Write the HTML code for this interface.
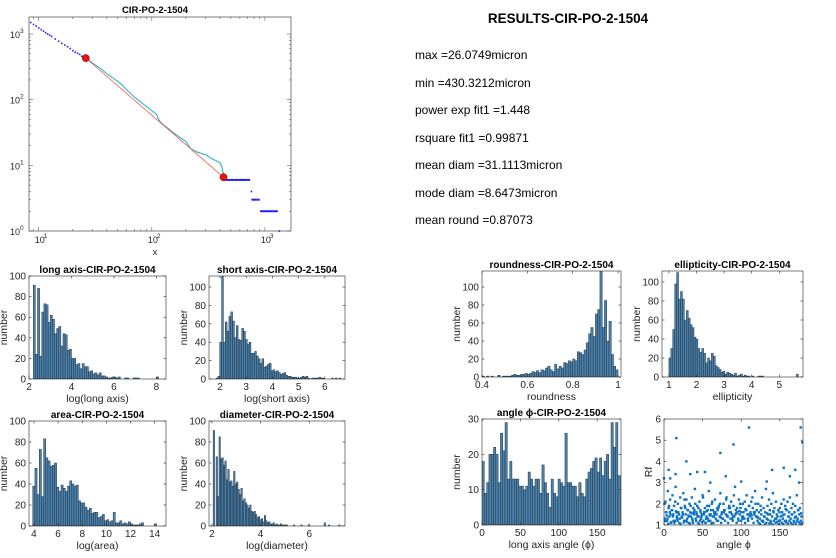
<!DOCTYPE html>
<html><head><meta charset="utf-8">
<style>
html,body{margin:0;padding:0;background:#fff;}
svg{display:block;font-family:"Liberation Sans",Arial,sans-serif;}
.t{font-size:12px;fill:#000;}
</style></head>
<body>
<svg id="fig" width="836" height="558" viewBox="0 0 836 558">
<g>
<text x="568" y="23" text-anchor="middle" font-weight="bold" font-size="13.5">RESULTS-CIR-PO-2-1504</text>
<text class="t" x="415" y="59">max =26.0749micron</text>
<text class="t" x="415" y="87">min =430.3212micron</text>
<text class="t" x="415" y="114">power exp fit1 =1.448</text>
<text class="t" x="415" y="142">rsquare fit1 =0.99871</text>
<text class="t" x="415" y="169">mean diam =31.1113micron</text>
<text class="t" x="415" y="197">mode diam =8.6473micron</text>
<text class="t" x="415" y="224">mean round =0.87073</text>
</g>
</svg>
<script>
// ---------- data ----------
const headX = [8.5,9,9.5,10,10.5,11,11.5,12,12.5,13,14,15,16,17,18,19,20,21,22,23,24,25,26];
const headY = [1500,1400,1320,1240,1170,1110,1050,1000,960,920,840,780,720,680,640,600,560,530,510,490,460,445,430];
const cyanX = [26,30,35,40,45,50,55,60,65,70,80,90,100,110,115,120,130,150,170,200,220,250,280,300,330,360,400,420,430];
const cyanY = [430,360,300,250,215,190,165,140,125,110,92,78,68,60,50,45,40,33,28,23,18,16,15,14.5,13,12,11,9,7];
const tailX = [430,460,500,540,580,620,660,700,740,760,770,800,840,880,900,920,980,1040,1100,1160,1220,1280,1300,1340];
const tailY = [6,6,6,6,6,6,6,6,6,4,3,3,3,3,3,2,2,2,2,2,2,2,2,1];
const fitX = [26.07,430.32];
const fitY = [430,6.6];
const longStart = 2.2, longWidth = 0.1;
const longCounts = [91,24,88,22,65,73,72,55,62,58,44,49,51,32,44,43,28,29,20,20,14,15,10,15,12,12,7,8,5,6,4,6,3,3,2,1,1,2,2,1,2,0,0,1,1,0,0,1,1,1,0,0,0,0,0,0,0,0,2];
const shortStart = 1.85, shortWidth = 0.07;
const shortCounts = [1,3,40,112,40,62,52,68,73,63,45,58,43,42,55,52,43,38,40,28,28,30,25,22,17,22,13,14,16,17,9,10,8,9,7,5,6,7,4,3,3,2,2,2,1,1,2,3,2,3,1,0,1,1,1,1,2,1,1,0,0,0,0,1,0,1,0,1];
const areaStart = 3.9, areaWidth = 0.18;
const areaCounts = [38,55,30,73,28,83,65,62,57,58,60,37,33,39,36,33,38,43,40,38,39,24,22,22,18,15,17,12,13,13,8,9,11,5,6,4,5,13,3,3,5,2,3,2,4,2,1,1,1,2,3,0,0,0,0,0,2];
const diamStart = 2.05, diamWidth = 0.06;
const diamCounts = [91,0,66,28,85,64,65,58,62,44,54,42,43,38,52,40,42,35,30,36,24,26,22,20,17,20,14,13,14,11,8,9,6,7,4,10,5,3,4,2,2,3,1,2,1,1,2,1,1,1,1,0,0,0,0,1,0,0,0,0,1,0,0,0,0,1,0,0,0,0,0,0,0,0,0,0,3,0,0,1,0,0,0,0,0,0,1];
const roundStart = 0.4, roundWidth = 0.01;
const roundCounts = [1,0,1,0,1,0,0,2,0,1,1,1,1,2,3,2,2,3,3,4,3,4,6,5,7,5,8,7,10,12,8,6,14,9,12,10,16,15,18,17,20,18,28,27,25,30,38,48,55,45,70,75,118,55,85,40,62,25,12,8];
const ellStart = 1.0, ellWidth = 0.07;
const ellCounts = [20,30,50,98,110,82,90,82,60,70,62,55,52,42,40,30,26,30,25,15,20,17,25,22,12,10,8,5,6,3,5,4,3,2,4,1,2,3,1,2,1,1,0,1,0,0,1,1,1,0,0,0,0,0,0,0,0,0,0,0,0,0,0,0,0,0,3];
const angleStart = 0, angleWidth = 3;
const angleCounts = [18,9,12,20,20,22,20,12,26,21,29,13,18,13,13,13,11,11,10,11,15,13,11,13,13,9,17,12,9,5,13,9,8,13,12,11,26,12,12,11,11,8,12,9,8,13,15,16,18,19,15,19,14,18,20,13,29,22,29,14];
const scAngle = [16,110,90,73,29,177,179,6,15,34,43,53,0,8,140,155,170,163,80,100,133,175,60,
1,2,3,4,5,6,7,8,9,10,11,12,13,14,15,16,17,18,19,20,21,22,23,24,25,26,27,28,29,30,31,32,33,34,35,36,37,38,39,40,41,42,43,44,45,46,47,48,49,50,51,52,53,54,55,56,57,58,59,60,61,62,63,64,65,66,67,68,69,70,71,72,73,74,75,76,77,78,79,80,81,82,83,84,85,86,87,88,89,90,91,92,93,94,95,96,97,98,99,100,101,102,103,104,105,106,107,108,109,110,111,112,113,114,115,116,117,118,119,120,121,122,123,124,125,126,127,128,129,130,131,132,133,134,135,136,137,138,139,140,141,142,143,144,145,146,147,148,149,150,151,152,153,154,155,156,157,158,159,160,161,162,163,164,165,166,167,168,169,170,171,172,173,174,175,176,177,178,
0.5,2.5,4.5,6.5,8.5,10.5,12.5,14.5,16.5,18.5,20.5,22.5,24.5,26.5,28.5,30.5,32.5,34.5,36.5,38.5,40.5,42.5,44.5,46.5,48.5,50.5,52.5,54.5,56.5,58.5,60.5,62.5,64.5,66.5,68.5,70.5,72.5,74.5,76.5,78.5,80.5,82.5,84.5,86.5,88.5,90.5,92.5,94.5,96.5,98.5,100.5,102.5,104.5,106.5,108.5,110.5,112.5,114.5,116.5,118.5,120.5,122.5,124.5,126.5,128.5,130.5,132.5,134.5,136.5,138.5,140.5,142.5,144.5,146.5,148.5,150.5,152.5,154.5,156.5,158.5,160.5,162.5,164.5,166.5,168.5,170.5,172.5,174.5,176.5,178.5,
1.5,5.5,9.5,13.5,17.5,21.5,25.5,29.5,33.5,37.5,41.5,45.5,49.5,53.5,57.5,61.5,65.5,69.5,73.5,77.5,81.5,85.5,89.5,93.5,97.5,101.5,105.5,109.5,113.5,117.5,121.5,125.5,129.5,133.5,137.5,141.5,145.5,149.5,153.5,157.5,161.5,165.5,169.5,173.5,177.5,
3.5,7.5,11.5,15.5,19.5,23.5,27.5,31.5,35.5,39.5,43.5,47.5,51.5,55.5,59.5,63.5,67.5,71.5,75.5,79.5,83.5,87.5,91.5,95.5,99.5,103.5,107.5,111.5,115.5,119.5,123.5,127.5,131.5,135.5,139.5,143.5,147.5,151.5,155.5,159.5,163.5,167.5,171.5,175.5,179.5];
const scRf = [5.1,5.6,4.8,4.4,4.0,5.6,4.9,3.6,3.4,3.4,3.5,3.5,3.2,3.2,3.6,3.7,3.6,3.3,3.3,3.05,3.05,3.0,3.0,
1.3,2.1,1.6,1.2,2.6,1.8,1.4,2.2,1.1,1.7,2.4,1.5,1.9,1.2,2.8,1.6,1.3,2.0,1.5,1.1,2.3,1.8,1.4,1.6,2.5,1.2,1.9,1.5,2.2,1.3,1.7,1.1,2.0,1.6,1.4,2.3,1.2,1.8,1.5,2.7,1.3,1.6,1.9,1.1,1.4,2.1,1.7,1.3,1.5,2.4,1.2,1.6,1.8,1.1,1.4,1.9,1.3,2.6,1.5,1.2,1.7,2.0,1.4,1.1,1.6,2.2,1.3,1.5,1.8,1.2,1.9,1.4,2.5,1.1,1.6,1.3,2.0,1.7,1.2,1.5,2.3,1.4,1.1,1.8,1.6,1.3,2.1,1.5,1.2,1.9,1.4,2.8,1.7,1.1,1.6,1.3,2.2,1.5,1.8,1.2,1.4,2.0,1.6,1.3,1.1,1.7,2.4,1.5,1.2,1.9,1.4,1.6,2.1,1.3,1.8,1.1,1.5,2.6,1.4,1.7,1.2,2.0,1.6,1.3,1.9,1.5,2.3,1.2,1.8,1.4,1.6,2.7,1.3,1.9,1.5,2.2,1.7,1.2,2.0,1.4,2.5,1.6,1.8,1.3,2.1,1.5,1.4,1.7,1.2,
1.8,1.4,2.0,1.6,1.3,2.2,1.5,1.9,1.2,1.7,2.1,1.4,1.6,2.3,1.3,1.8,1.5,2.0,1.2,1.6,1.9,1.4,2.4,1.3,1.7,1.5,1.8,1.2,1.4,2.0,1.6,1.3,1.9,1.5,1.7,1.2,2.1,1.4,1.6,1.3,1.8,1.5,2.2,1.2,1.7,1.4,1.9,1.3,1.6,2.0,1.5,1.8,1.2,1.4,2.3,1.6,1.3,1.7,1.9,1.5,2.1,1.4,1.6,1.2,1.8,2.0,1.5,1.3,1.7,2.2,1.4,1.9,1.6,1.3,2.4,1.5,1.8,1.2,2.0,1.6,1.4,2.1,1.7,1.3,1.9,1.5,2.3,1.6,2.0,1.4,
1.1,1.05,1.2,1.15,1.02,1.1,1.25,1.08,1.12,1.03,1.2,1.1,1.15,1.05,1.22,1.1,1.04,1.18,1.12,1.07,1.2,1.1,1.03,1.15,1.08,1.2,1.12,1.05,1.1,1.18,1.06,1.14,1.09,1.2,1.03,1.12,1.16,1.07,1.1,1.2,1.05,1.13,1.1,1.18,1.08,
1.5,1.7,1.35,1.6,1.45,1.8,1.4,1.55,1.65,1.3,1.75,1.5,1.45,1.6,1.35,1.7,1.4,1.55,1.5,1.65,1.3,1.6,1.45,1.75,1.4,1.5,1.35,1.7,1.55,1.45,1.6,1.4,1.65,1.5,1.35,1.8,1.45,1.55,1.7,1.4,1.6,1.5,1.65,1.45,1.7];

// ---------- drawing helpers ----------
const NS = "http://www.w3.org/2000/svg";
const fig = document.getElementById('fig');
let clipId = 0;
function mk(tag, attrs, parent){
  const e = document.createElementNS(NS, tag);
  for (const k in attrs) e.setAttribute(k, attrs[k]);
  (parent||fig).appendChild(e);
  return e;
}
function txt(parent, x, y, s, opts){
  const t = mk('text', Object.assign({x:x, y:y, 'font-size':10, fill:'#262626'}, opts||{}), parent);
  t.textContent = s;
  return t;
}
function linScale(d0,d1,r0,r1){ return v => r0 + (v-d0)/(d1-d0)*(r1-r0); }
function clipFor(b){
  const id = 'clip' + (clipId++);
  const cp = mk('clipPath', {id:id});
  mk('rect', {x:b.x0, y:b.y0, width:b.x1-b.x0, height:b.y1-b.y0}, cp);
  return 'url(#' + id + ')';
}

function axesFrame(g, b, xs, ys, xticks, yticks, xtickLab, ytickLab){
  const frame = mk('rect', {x:b.x0, y:b.y0, width:b.x1-b.x0, height:b.y1-b.y0, fill:'none', stroke:'#262626', 'stroke-width':0.6}, g);
  
  
  const xt = mk('g', {}, g);
  
  
  xticks.forEach((v,i) => {
    const px = xs(v);
    mk('line', {x1:px, x2:px, y1:b.y1, y2:b.y1-2.5, stroke:'#262626', 'stroke-width':0.6}, xt);
    mk('line', {x1:px, x2:px, y1:b.y0, y2:b.y0+2.5, stroke:'#262626', 'stroke-width':0.6}, xt);
    txt(xt, px, b.y1+11, xtickLab[i], {'text-anchor':'middle'});
  });
  const yt = mk('g', {}, g);
  
  
  yticks.forEach((v,i) => {
    const py = ys(v);
    mk('line', {x1:b.x0, x2:b.x0+2.5, y1:py, y2:py, stroke:'#262626', 'stroke-width':0.6}, yt);
    mk('line', {x1:b.x1, x2:b.x1-2.5, y1:py, y2:py, stroke:'#262626', 'stroke-width':0.6}, yt);
    txt(yt, b.x0-3, py+3.5, ytickLab[i], {'text-anchor':'end'});
  });
}
function labels(g, b, title, xl, yl, name){
  const t = txt(g, (b.x0+b.x1)/2, b.y0-3, title, {'text-anchor':'middle','font-weight':'bold','fill':'#000','font-size':10});
  
  
  const x = txt(g, (b.x0+b.x1)/2, b.y1+23, xl, {'text-anchor':'middle','font-size':10.5});
  
  
  const cy = (b.y0+b.y1)/2, cx = b.x0-22;
  const y = txt(g, cx, cy, yl, {'text-anchor':'middle','font-size':10.5,'transform':'rotate(-90 '+cx+' '+cy+')'});
  
  
}
function hist(name, b, xr, yr, start, width, counts, xticks, yticks, title, xl, yl){
  const g = mk('g', {});
  
  
  const xs = linScale(xr[0], xr[1], b.x0, b.x1);
  const ys = linScale(yr[0], yr[1], b.y1, b.y0);
  const bars = mk('g', {'clip-path':clipFor(b)}, g);
  
  
  counts.forEach((c,i) => {
    if (c <= 0) return;
    const a = start + i*width;
    const x0 = xs(a), x1 = xs(a+width);
    const top = ys(c);
    const r = mk('rect', {x:x0, y:top, width:Math.max(x1-x0,0.5), height:b.y1-top, fill:'#4a81ad', stroke:'#1d2b36', 'stroke-width':0.45}, bars);
    
    
  });
  axesFrame(g, b, xs, ys, xticks, yticks, xticks.map(String), yticks.map(String));
  labels(g, b, title, xl, yl, name);
}

// ---------- main log-log plot ----------
(function(){
  const g = mk('g', {});
  
  
  const b = {x0:29, x1:291, y0:17, y1:231};
  const lx0 = Math.log10(8.2), lx1 = Math.log10(1700);
  const ly0 = 0, ly1 = 3.26;
  const xs = v => b.x0 + (Math.log10(v)-lx0)/(lx1-lx0)*(b.x1-b.x0);
  const ys = v => b.y1 - (Math.log10(v)-ly0)/(ly1-ly0)*(b.y1-b.y0);
  mk('rect', {x:b.x0, y:b.y0, width:b.x1-b.x0, height:b.y1-b.y0, fill:'none', stroke:'#262626', 'stroke-width':0.6}, g);
  const mt = mk('g', {}, g);
  
  
  for (let d=0; d<4; d++) for (let m=1; m<10; m++){
    const v = m*Math.pow(10,d);
    if (v>=8.2 && v<=1700){ const px=xs(v); const l=m===1?4:2;
      mk('line',{x1:px,x2:px,y1:b.y1,y2:b.y1-l,stroke:'#444','stroke-width':0.5},mt);
      mk('line',{x1:px,x2:px,y1:b.y0,y2:b.y0+l,stroke:'#444','stroke-width':0.5},mt);}
    if (v>=1 && v<=1800){ const py=ys(v); const l=m===1?4:2;
      mk('line',{x1:b.x0,x2:b.x0+l,y1:py,y2:py,stroke:'#444','stroke-width':0.5},mt);
      mk('line',{x1:b.x1,x2:b.x1-l,y1:py,y2:py,stroke:'#444','stroke-width':0.5},mt);}
  }
  [1,2,3].forEach(e => {
    const t = txt(g, xs(Math.pow(10,e))-4, b.y1+12, '10', {'font-size':9});
    
    
    txt(g, xs(Math.pow(10,e))+5, b.y1+7, String(e), {'font-size':6.5});
  });
  [0,1,2,3].forEach(e => {
    const t = txt(g, b.x0-19, ys(Math.pow(10,e))+4, '10', {'font-size':9});
    
    
    txt(g, b.x0-9, ys(Math.pow(10,e))-1, String(e), {'font-size':6.5});
  });
  const tt = txt(g, 155, 13, 'CIR-PO-2-1504', {'text-anchor':'middle','font-weight':'bold','fill':'#000','font-size':9.5});
  
  
  const xl = txt(g, 155, 255, 'x', {'text-anchor':'middle','font-size':9.5});
  
  
  headX.forEach((x,i) => {
    const c = mk('rect',{x:xs(x)-0.8,y:ys(headY[i])-0.8,width:1.6,height:1.6,fill:'#2b2bff'},g);
    
    
  });
  const cp = cyanX.map((x,i)=>xs(x)+','+ys(cyanY[i])).join(' ');
  const cl = mk('polyline',{points:cp,fill:'none',stroke:'#3ae8ee','stroke-width':1.6,'stroke-dasharray':'1.5 0.6'},g);
  
  
  const dl = mk('polyline',{points:cp,fill:'none',stroke:'#4a6b6b','stroke-width':0.5},g);
  
  
  const fl = mk('line',{x1:xs(fitX[0]),y1:ys(fitY[0]),x2:xs(fitX[1]),y2:ys(fitY[1]),stroke:'#ff5050','stroke-width':0.8},g);
  
  
  for (let i=0;i<tailX.length-1;i++){
    if (tailY[i]===tailY[i+1]){
      const s = mk('line',{x1:xs(tailX[i]),x2:xs(tailX[i+1]),y1:ys(tailY[i]),y2:ys(tailY[i]),stroke:'#1a1aff','stroke-width':2},g);
      
      
    } else {
      const s = mk('rect',{x:xs(tailX[i+1])-0.8,y:ys(tailY[i+1])-0.8,width:1.6,height:1.6,fill:'#1a1aff'},g);
      
      
    }
  }
  fitX.forEach((x,i) => {
    const c = mk('circle',{cx:xs(x),cy:ys(fitY[i]),r:3.6,fill:'#e8120c',stroke:'#600','stroke-width':0.5},g);
    
    
  });
})();

// ---------- histograms ----------
hist('long-axis', {x0:29,x1:166,y0:276,y1:379}, [2,8.45], [0,100], longStart, longWidth, longCounts, [2,4,6,8], [0,20,40,60,80,100], 'long axis-CIR-PO-2-1504', 'log(long axis)', 'number');
hist('short-axis', {x0:209,x1:345,y0:276,y1:379}, [1.58,6.77], [0,112], shortStart, shortWidth, shortCounts, [2,3,4,5,6], [0,20,40,60,80,100], 'short axis-CIR-PO-2-1504', 'log(short axis)', 'number');
hist('area', {x0:29,x1:166,y0:421,y1:526}, [3.59,14.94], [0,100], areaStart, areaWidth, areaCounts, [4,6,8,10,12,14], [0,20,40,60,80,100], 'area-CIR-PO-2-1504', 'log(area)', 'number');
hist('diameter', {x0:209,x1:345,y0:421,y1:526}, [1.88,7.47], [0,100], diamStart, diamWidth, diamCounts, [2,4,6], [0,20,40,60,80,100], 'diameter-CIR-PO-2-1504', 'log(diameter)', 'number');
hist('roundness', {x0:482,x1:621,y0:271,y1:377}, [0.4,1.013], [0,117.8], roundStart, roundWidth, roundCounts, [0.4,0.6,0.8,1], [0,20,40,60,80,100], 'roundness-CIR-PO-2-1504', 'roundness', 'number');
hist('ellipticity', {x0:662,x1:803,y0:271,y1:377}, [0.75,5.86], [0,111.6], ellStart, ellWidth, ellCounts, [1,2,3,4,5], [0,20,40,60,80,100], 'ellipticity-CIR-PO-2-1504', 'ellipticity', 'number');
hist('angle', {x0:482,x1:621,y0:419,y1:525}, [0,181], [0,30], angleStart, angleWidth, angleCounts, [0,50,100,150], [0,10,20,30], 'angle \u03d5-CIR-PO-2-1504', 'long axis angle (\u03d5)', 'number');

// ---------- scatter ----------
(function(){
  const g = mk('g', {});
  
  
  const b = {x0:664,x1:803,y0:419,y1:525};
  const xs = linScale(0,180,b.x0,b.x1);
  const ys = linScale(1,6,b.y1,b.y0);
  const pts = mk('g',{'clip-path':clipFor({x0:b.x0-2,x1:b.x1+2,y0:b.y0-2,y1:b.y1})},g);
  
  
  const n = Math.min(scAngle.length, scRf.length);
  for (let i=0;i<n;i++){
    const p = mk('rect',{x:xs(scAngle[i])-1.2,y:ys(scRf[i])-1.2,width:2.4,height:2.4,fill:'#0a72c4'},pts);
    
    
  }
  axesFrame(g, b, xs, ys, [0,50,100,150], [1,2,3,4,5,6], ['0','50','100','150'], ['1','2','3','4','5','6']);
  const x = txt(g,(b.x0+b.x1)/2,b.y1+23,'angle \u03d5',{'text-anchor':'middle','font-size':10.5});
  
  
  const cy=(b.y0+b.y1)/2, cx=b.x0-12;
  const y = txt(g,cx,cy,'Rf',{'text-anchor':'middle','font-size':10.5,'transform':'rotate(-90 '+cx+' '+cy+')'});
  
  
})();
</script>
</body></html>
